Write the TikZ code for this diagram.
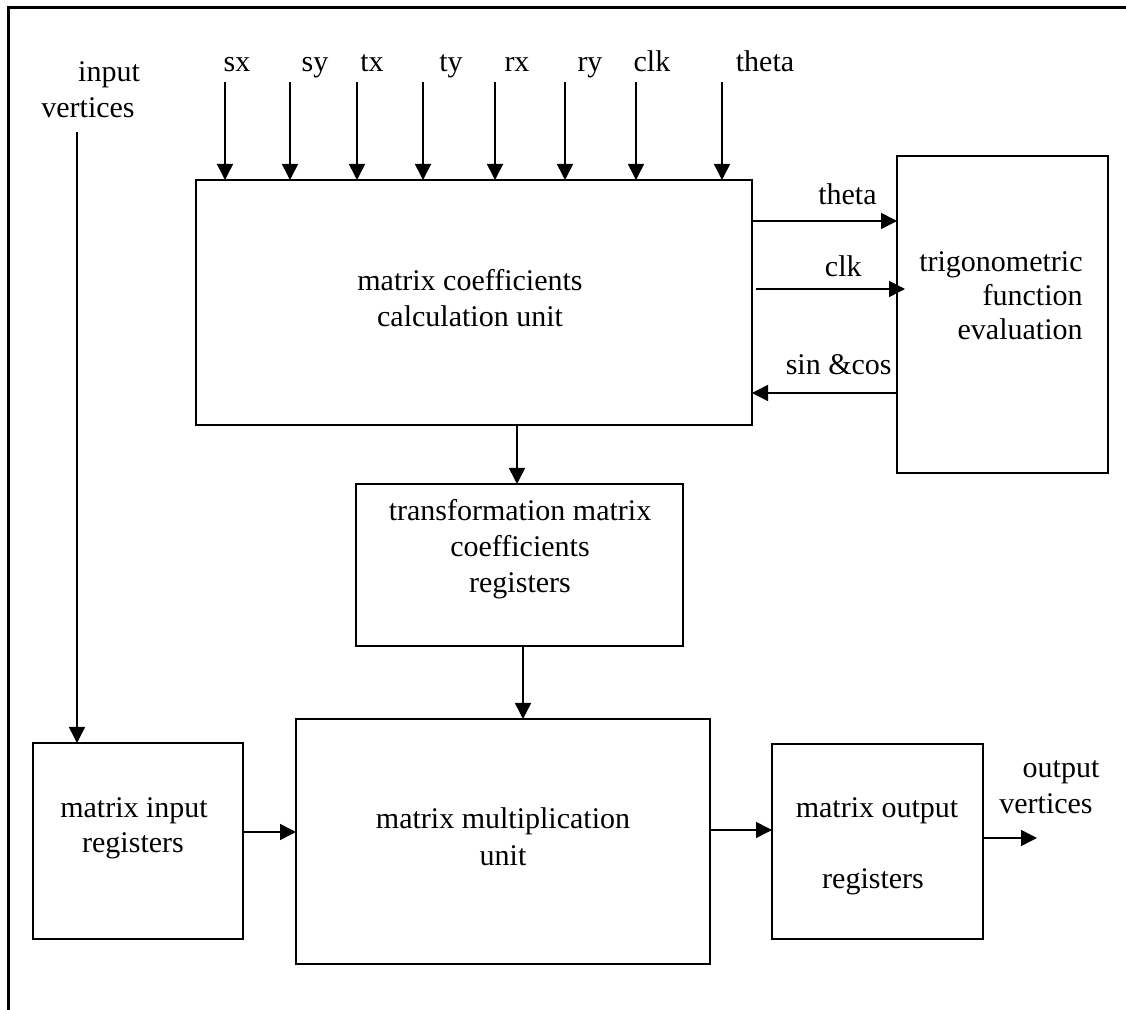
\documentclass[tikz,border=0pt]{standalone}
\usepackage{fontspec}
\setmainfont{Liberation Serif}
\usetikzlibrary{arrows.meta,calc}
\begin{document}
\begin{tikzpicture}[x=0.5pt,y=-0.5pt,
  box/.style={draw, line width=1.35pt, rectangle, inner sep=0pt, outer sep=0pt},
  txt/.style={font=\fontsize{15pt}{17.5pt}\selectfont, inner sep=0pt, anchor=base},
  rtxt/.style={txt, anchor=base east},
  arr/.style={line width=0.75pt, -{Triangle[length=8pt,width=8pt]}},
  frameline/.style={line width=1.5pt}]
\useasboundingbox (0,0) rectangle (1126,1010);
% frame
\coordinate (fTL) at (8,8);
\coordinate (fTR) at (1126,8);
\coordinate (fBL) at (8,1010);
\draw[frameline] (fTR) -- (fTL) -- (fBL);
% boxes
\node[box, minimum width=278pt, minimum height=122.5pt] (main) at (474,302.5) {};
\node[box, minimum width=105.5pt, minimum height=158.5pt] (trig) at (1002.5,314.5) {};
\node[box, minimum width=163.5pt, minimum height=81pt] (mid) at (519.5,565) {};
\node[box, minimum width=207pt, minimum height=122.5pt] (mult) at (503,841.5) {};
\node[box, minimum width=105pt, minimum height=98pt] (inreg) at (138,841) {};
\node[box, minimum width=105.5pt, minimum height=97.5pt] (outreg) at (877.5,841.5) {};
% box texts
\node[txt] (mainA) at (470,291) {matrix coefficients};
\node[txt] (mainB) at (470,327) {calculation unit};
\node[rtxt] (trigA) at (1083,272) {trigonometric};
\node[rtxt] (trigB) at (1083,306) {function};
\node[rtxt] (trigC) at (1083,340) {evaluation};
\node[txt] (midA) at (520,521) {transformation matrix};
\node[txt] (midB) at (520,557) {coefficients};
\node[txt] (midC) at (520,593) {registers};
\node[txt] (multA) at (503,828) {matrix multiplication};
\node[txt] (multB) at (503,865) {unit};
\node[txt] (inA) at (134,818) {matrix input};
\node[txt] (inB) at (133,853) {registers};
\node[txt] (outA) at (877,818) {matrix output};
\node[txt] (outB) at (873,888) {registers};
% top inputs
\foreach \x/\lx/\n/\t in {225/237/sx/sx, 290/315/sy/sy, 357/372/tx/tx, 423/451/ty/ty, 495/517/rx/rx, 565/590/ry/ry, 636/652/clk/clk, 722/765/th/theta}{
  \node[txt] (l\n) at (\lx,72) {\t};
  \coordinate (a\n) at (\x,82);
  \draw[arr] (a\n) -- (a\n |- main.north);
}
% input vertices
\node[txt] (ivA) at (109,82) {input};
\node[txt] (ivB) at (88,118) {vertices};
\coordinate (iv) at (77,132);
\draw[arr] (iv) -- (iv |- inreg.north);
% main <-> trig
\draw[arr] (main.east |- 0,221) -- (trig.west |- 0,221);
\node[rtxt] (lth2) at (877,205) {theta};
\draw[arr] ($(main.east |- 0,289)+(4,0)$) -- ($(trig.west |- 0,289)+(8,0)$);
\node[rtxt] (lclk2) at (862,277) {clk};
\draw[arr] (trig.west |- 0,393) -- (main.east |- 0,393);
\node[rtxt] (lsc) at (892,375) {sin \&cos};
% vertical flow
\draw[arr] (main.south -| 517,0) -- (mid.north -| 517,0);
\draw[arr] (mid.south -| 523,0) -- (mult.north -| 523,0);
% horizontal flow
\draw[arr] (inreg.east |- 0,832) -- (mult.west |- 0,832);
\draw[arr] (mult.east |- 0,830) -- (outreg.west |- 0,830);
\coordinate (ov) at (1037,838);
\draw[arr] (outreg.east |- ov) -- (ov);
\node[txt] (ovA) at (1061,777) {output};
\node[txt] (ovB) at (1046,813) {vertices};
\end{tikzpicture}
\end{document}
